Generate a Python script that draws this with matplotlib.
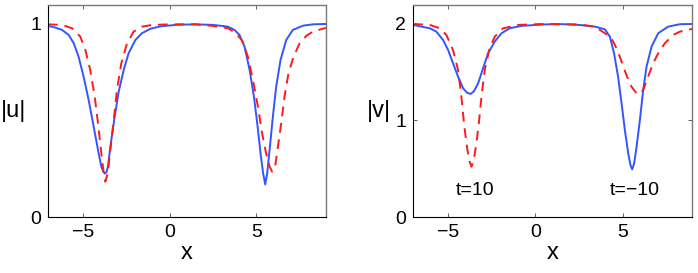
import matplotlib
matplotlib.use("Agg")
import matplotlib.pyplot as plt

plt.rcParams['font.family'] = ['Liberation Sans', 'DejaVu Sans']

# |u|, solid (t=-10)
u_solid_x = [-7.0, -6.6, -6.19, -5.81, -5.52, -5.24, -4.95, -4.66, -4.37, -4.12, -3.93, -3.80,
             -3.72, -3.64, -3.55, -3.41, -3.16, -2.93, -2.64, -2.36, -1.97, -1.59, -1.1, -0.5,
             0.5, 1.5, 2.5, 3.0, 3.36, 3.74, 4.03, 4.32, 4.61, 4.86, 5.05, 5.24, 5.39, 5.51,
             5.62, 5.76, 5.95, 6.14, 6.39, 6.72, 7.10, 7.68, 8.25, 9.0]
u_solid_y = [0.99, 0.982, 0.969, 0.943, 0.90, 0.83, 0.727, 0.606, 0.468, 0.347, 0.261, 0.232,
             0.225, 0.232, 0.26, 0.364, 0.52, 0.649, 0.762, 0.848, 0.917, 0.952, 0.975, 0.988,
             0.996, 0.998, 0.995, 0.99, 0.986, 0.969, 0.943, 0.882, 0.762, 0.623, 0.485, 0.33, 0.226, 0.169,
             0.226, 0.347, 0.52, 0.675, 0.813, 0.917, 0.969, 0.991, 0.998, 1.0]

# |u|, dashed (t=10)
u_dash_x = [-7.0, -6.19, -5.62, -5.14, -4.85, -4.57, -4.31, -4.12, -3.93, -3.79, -3.70, -3.56,
            -3.41, -3.22, -3.03, -2.78, -2.45, -2.07, -1.59, -1.0, 0.0, 1.5, 2.5, 3.36,
            3.84, 4.22, 4.51, 4.80, 5.09, 5.33, 5.56, 5.76, 5.91, 6.08, 6.24, 6.43, 6.62,
            6.85, 7.14, 7.49, 7.87, 8.25, 9.0]
u_dash_y = [0.998, 0.995, 0.978, 0.934, 0.865, 0.762, 0.623, 0.485, 0.33, 0.226, 0.183, 0.226,
            0.347, 0.50, 0.658, 0.796, 0.90, 0.96, 0.986, 0.995, 0.998, 0.998, 0.99, 0.978,
            0.952, 0.908, 0.83, 0.71, 0.571, 0.434, 0.33, 0.261, 0.235, 0.261, 0.364, 0.485, 0.623,
            0.745, 0.83, 0.90, 0.938, 0.96, 0.98]

# |v|, solid (t=-10)
v_solid_x = [-7.0, -6.6, -6.05, -5.67, -5.29, -5.0, -4.72, -4.43, -4.14, -3.92, -3.72, -3.53,
             -3.28, -3.0, -2.71, -2.33, -1.94, -1.47, -0.8, 0.5, 1.5, 2.5, 3.41, 3.98, 4.27,
             4.51, 4.74, 4.94, 5.13, 5.32, 5.45, 5.55, 5.66, 5.80, 5.99, 6.18, 6.37, 6.66,
             7.04, 7.61, 8.28, 9.0]
v_solid_y = [1.99, 1.975, 1.955, 1.92, 1.834, 1.73, 1.593, 1.454, 1.333, 1.288, 1.275, 1.30,
             1.385, 1.54, 1.696, 1.817, 1.904, 1.955, 1.98, 1.995, 1.998, 1.99, 1.972, 1.945, 1.868,
             1.696, 1.454, 1.178, 0.90, 0.66, 0.539, 0.494, 0.556, 0.728, 1.005, 1.316, 1.557, 1.765,
             1.904, 1.972, 1.997, 2.0]

# |v|, dashed (t=10)
v_dash_x = [-7.0, -6.05, -5.48, -5.10, -4.72, -4.43, -4.24, -4.09, -3.95, -3.80, -3.66, -3.53,
            -3.38, -3.24, -3.09, -2.90, -2.65, -2.33, -1.85, -1.0, 0.5, 2.5, 3.41, 3.98, 4.36,
            4.65, 4.94, 5.22, 5.51, 5.80, 5.99, 6.18, 6.46, 6.75, 7.04, 7.42, 7.90, 8.28, 9.0]
v_dash_y = [2.0, 1.99, 1.955, 1.886, 1.73, 1.523, 1.247, 0.971, 0.764, 0.59, 0.521, 0.59,
            0.764, 0.971, 1.247, 1.523, 1.73, 1.868, 1.955, 1.99, 2.0, 1.995, 1.972, 1.904, 1.852,
            1.748, 1.61, 1.47, 1.35, 1.28, 1.275, 1.316, 1.454, 1.593, 1.696, 1.80, 1.886, 1.92, 1.95]

x_ticks = [-5, 0, 5]
x_tick_labels = ['\u22125', '0', '5']
blue = '#3355ff'
red = '#ff1a1a'

fig = plt.figure(figsize=(6.98, 2.73), dpi=100)
ax1 = fig.add_axes([0.0688, 0.205, 0.398, 0.778])
ax2 = fig.add_axes([0.592, 0.205, 0.400, 0.778])


def style(ax, ylim, yticks, ylabel):
    ax.set_xlim(-7, 9)
    ax.set_ylim(*ylim)
    ax.set_xticks(x_ticks)
    ax.set_xticklabels(x_tick_labels)
    ax.set_yticks(yticks)
    ax.set_yticklabels([str(t) for t in yticks])
    ax.tick_params(direction='in', top=True, right=True, length=3, width=0.6,
                   labelsize=14, pad=5, colors='#444444', labelcolor='black')
    for s in ['top', 'right']:
        ax.spines[s].set_color('#777777')
        ax.spines[s].set_linewidth(1.0)
    for s in ['left', 'bottom']:
        ax.spines[s].set_color('black')
        ax.spines[s].set_linewidth(0.8)
    ax.set_xlabel('x', fontsize=17, labelpad=1)
    ax.set_ylabel(ylabel, fontsize=17, rotation=0, labelpad=12, va='center')


ax1.plot(u_solid_x, u_solid_y, color=blue, lw=1.4)
ax1.plot(u_dash_x, u_dash_y, color=red, lw=1.4, dashes=(5, 3.5))
style(ax1, (0, 1.1), [0, 1], '|u|')

ax2.plot(v_solid_x, v_solid_y, color=blue, lw=1.4)
ax2.plot(v_dash_x, v_dash_y, color=red, lw=1.4, dashes=(5, 3.5))
style(ax2, (0, 2.2), [0, 1, 2], '|v|')
ax2.text(-3.45, 0.27, 't=10', fontsize=14, ha='center', va='center')
ax2.text(5.7, 0.27, 't=\u221210', fontsize=14, ha='center', va='center')

fig.savefig('out.png', dpi=100)
